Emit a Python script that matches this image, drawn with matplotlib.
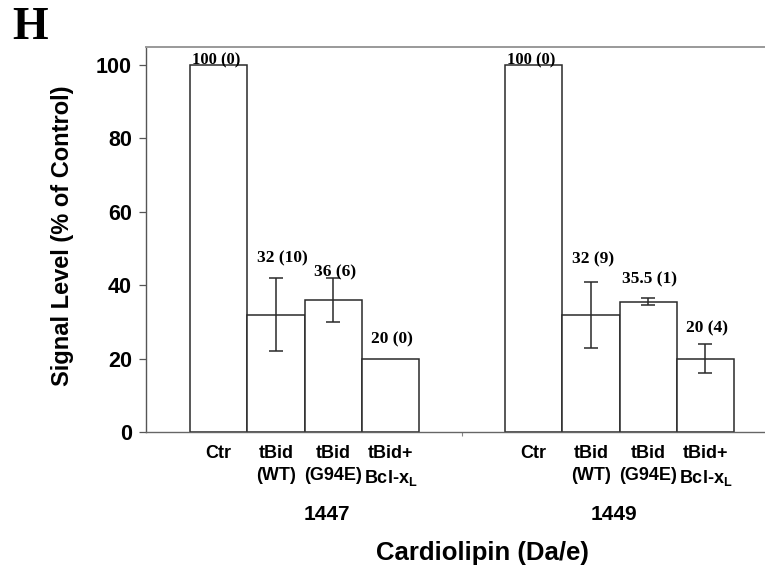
import numpy as np
import matplotlib
matplotlib.use("Agg")
import matplotlib.pyplot as plt

plt.rcParams['font.family'] = ['Liberation Sans', 'DejaVu Sans']
plt.rcParams['font.weight'] = 'bold'
plt.rcParams['mathtext.default'] = 'regular'

# data
groups = ["1447", "1449"]
categories = ["Ctr", "tBid\n(WT)", "tBid\n(G94E)", "tBid+\nBcl-x$_L$"]
signal_1447 = [100, 32, 36, 20]
err_1447 = [0, 10, 6, 0]
signal_1449 = [100, 32, 35.5, 20]
err_1449 = [0, 9, 1, 4]
labels_1447 = ["100 (0)", "32 (10)", "36 (6)", "20 (0)"]
labels_1449 = ["100 (0)", "32 (9)", "35.5 (1)", "20 (4)"]

fig = plt.figure(figsize=(7.65, 5.7), dpi=100)
ax = fig.add_axes([0.1908, 0.2421, 0.8092, 0.6761])

edge = '#2a2a2a'
x1 = np.arange(4)
x2 = np.arange(4) + 5.5
xs = np.concatenate([x1, x2])
vals = signal_1447 + signal_1449
errs = err_1447 + err_1449
labs = labels_1447 + labels_1449

ax.bar(xs, vals, width=1.0, color='white', edgecolor=edge, linewidth=1.1, zorder=2)
# error bars only where there is a spread
has_err = np.array(errs) > 0
ax.errorbar(xs[has_err], np.array(vals)[has_err], yerr=np.array(errs)[has_err],
            fmt='none', ecolor=edge, elinewidth=1.1, capsize=4.7, capthick=1.1, zorder=3)

# value labels (Times-like bold)
nudge = [0, 0.4, -3.6, 0.3, 0, 0.9, 0.2, -0.7]
dx = [0, 0.11, 0.03, 0.03, 0, 0.03, 0.03, 0.02]
for i in range(len(xs)):
    if vals[i] == 100:
        ax.text(xs[i] - 0.04, vals[i] - 0.9, labs[i], ha='center', va='bottom',
                family='Liberation Serif', fontweight='bold', fontsize=12, zorder=4)
    else:
        ax.text(xs[i] + dx[i], vals[i] + errs[i] + 5 + nudge[i], labs[i], ha='center', va='center',
                family='Liberation Serif', fontweight='bold', fontsize=12.5, zorder=4)

ax.set_ylim(0, 105)
ax.set_xlim(-1.27, 9.54)
ax.set_yticks([0, 20, 40, 60, 80, 100])
ax.tick_params(axis='y', direction='out', length=5, width=0.9, color='#555555',
               labelsize=15.5, pad=5)
for t in ax.get_yticklabels():
    t.set_fontweight('bold')

ax.set_xticks(xs)
ax.set_xticklabels(categories * 2, fontsize=13, fontweight='bold', linespacing=1.4)
ax.tick_params(axis='x', length=0, pad=9)
ax.set_xticks([4.25], minor=True)
ax.tick_params(axis='x', which='minor', length=3, width=0.8, color='#888888')

ax.spines['right'].set_visible(False)
ax.spines['left'].set_color('#555555')
ax.spines['bottom'].set_color('#666666')
ax.spines['top'].set_color('#999999')
ax.spines['top'].set_linewidth(1.4)
for s in ['left', 'bottom']:
    ax.spines[s].set_linewidth(1.0)

# group labels
fig.text(327 / 765, 1 - 514 / 570, groups[0], ha='center', va='center', fontsize=15, fontweight='bold')
fig.text(614 / 765, 1 - 514 / 570, groups[1], ha='center', va='center', fontsize=15, fontweight='bold')
fig.text(482 / 765, 1 - 553 / 570, "Cardiolipin (Da/e)", ha='center', va='center', fontsize=18.5, fontweight='bold')
fig.text(63 / 765, 1 - 236 / 570, "Signal Level (% of Control)", ha='center', va='center',
         rotation=90, fontsize=17, fontweight='bold')
fig.text(12 / 765, 1 - 28 / 570, "H", ha='left', va='center', family='Liberation Serif',
         fontweight='bold', fontsize=33)

fig.savefig("out.png", dpi=100)
